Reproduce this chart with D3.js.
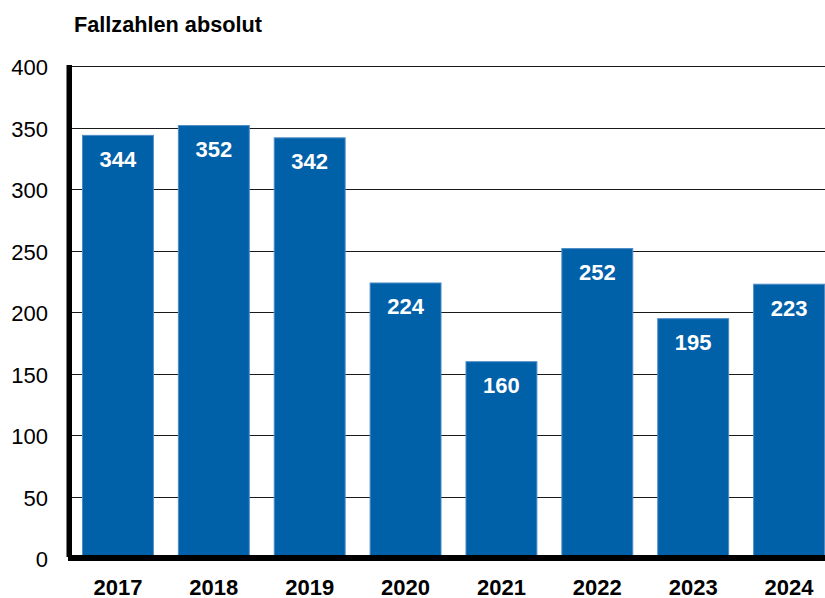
<!DOCTYPE html>
<html><head><meta charset="utf-8">
<script src="https://cdn.jsdelivr.net/npm/d3@7"></script>
<style>
html,body{margin:0;padding:0;background:#fff;}
svg{display:block;font-family:Arial,"Liberation Sans",sans-serif;}
</style></head>
<body>
<svg id="chart" width="825" height="598"></svg>
<script>
const years = ["2017","2018","2019","2020","2021","2022","2023","2024"];
const values = [344, 352, 342, 224, 160, 252, 195, 223];
const yTicks = [0, 50, 100, 150, 200, 250, 300, 350, 400];
const title = "Fallzahlen absolut";

const svg = d3.select("#chart");
const x = d3.scaleBand().domain(years).range([70, 837]).paddingInner(0.25).paddingOuter(0.125);
const y = d3.scaleLinear().domain([0, 400]).range([558, 66]);

// gridlines
svg.append("g").selectAll("line").data(yTicks.filter(d => d > 0)).join("line")
  .attr("x1", 72).attr("x2", 825)
  .attr("y1", d => Math.round(y(d)) + 0.5).attr("y2", d => Math.round(y(d)) + 0.5)
  .attr("stroke", "#1a1a1a").attr("stroke-width", 1);

// bars
svg.append("g").selectAll("rect").data(values).join("rect")
  .attr("x", (d, i) => x(years[i]) + 0.5)
  .attr("y", d => y(d) + 0.5)
  .attr("width", x.bandwidth() - 1)
  .attr("height", d => y(0) - y(d))
  .attr("fill", "#0060a8")
  .attr("stroke", "#4f8cc6").attr("stroke-width", 1);

// value labels
svg.append("g").selectAll("text").data(values).join("text")
  .attr("x", (d, i) => x(years[i]) + x.bandwidth() / 2)
  .attr("y", d => y(d) + 32)
  .attr("text-anchor", "middle")
  .attr("fill", "#fff").attr("font-weight", "bold").attr("font-size", "22px")
  .text(d => d);

// axes lines
svg.append("rect").attr("x", 66.5).attr("y", 65).attr("width", 5.5).attr("height", 492).attr("fill", "#000");
svg.append("rect").attr("x", 68).attr("y", 555).attr("width", 760).attr("height", 6).attr("fill", "#000");

// y tick labels
const yAxis = d3.axisLeft(y).tickValues(yTicks).tickSize(0).tickPadding(0);
const gy = svg.append("g").attr("transform", "translate(48,1.5)").call(yAxis);
gy.select(".domain").remove();
gy.selectAll("text").attr("font-size", "22px").attr("fill", "#000")
  .attr("font-family", "Arial, 'Liberation Sans', sans-serif");

// x labels
const xAxis = d3.axisBottom(x).tickSize(0).tickPadding(0);
const gx = svg.append("g").attr("transform", "translate(0,579)").call(xAxis);
gx.select(".domain").remove();
gx.selectAll("text").attr("font-size", "22px").attr("font-weight", "bold").attr("fill", "#000")
  .attr("font-family", "Arial, 'Liberation Sans', sans-serif").attr("dy", "0.72em");

// title
svg.append("text").attr("x", 74).attr("y", 32)
  .attr("font-size", "21.7px").attr("font-weight", "bold").attr("fill", "#000")
  .text(title);
</script>
</body></html>
